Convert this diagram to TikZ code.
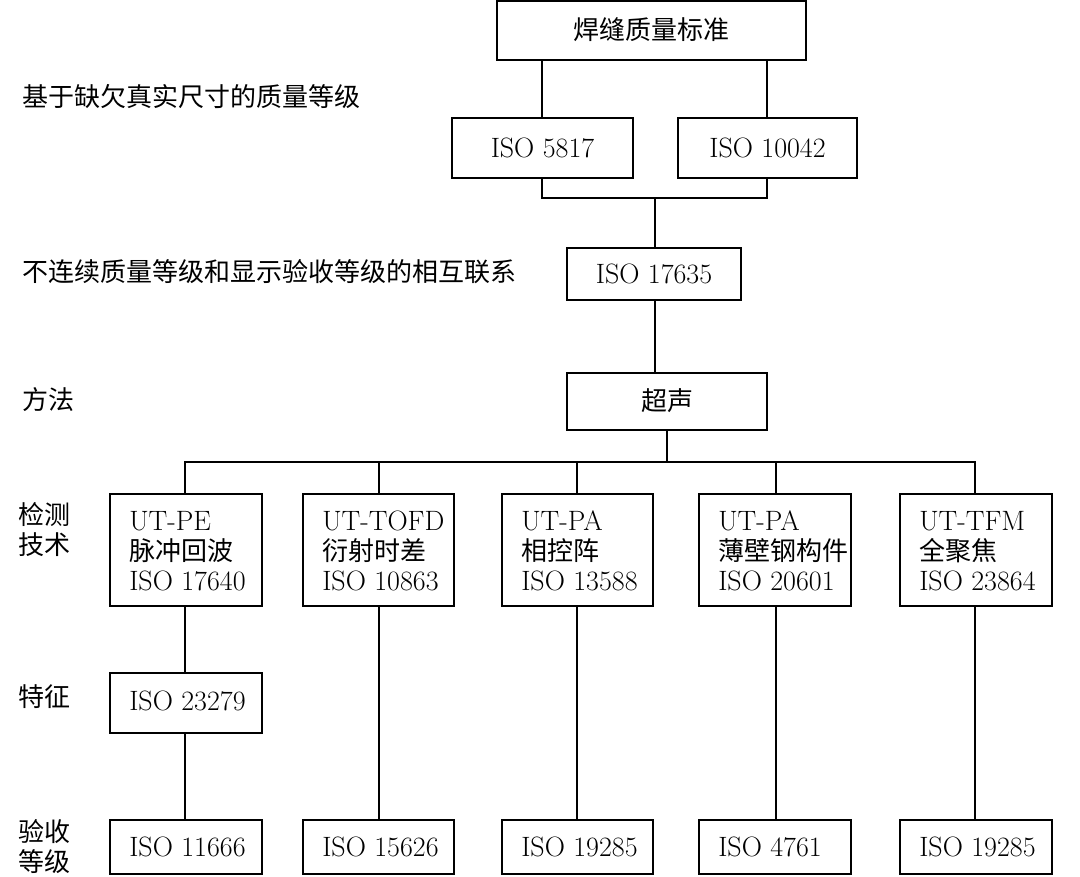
\documentclass[tikz,border=0pt]{standalone}
\usepackage{fontspec}
\newfontfamily\cjkf{Noto Sans CJK SC}
\newcommand\cjk{\cjkf\fontsize{19.5}{22.5}\selectfont}
\begin{document}
\begin{tikzpicture}[x=0.75pt,y=-0.75pt,
  bx/.style={draw,line width=0.9pt},
  ln/.style={line width=0.9pt},
  t/.style={font=\fontsize{21}{22.5}\selectfont},
  lab/.style={t,anchor=west,align=left,inner sep=0pt}]
\useasboundingbox (0,0) rectangle (1080,876);
\draw[bx] (497,1) rectangle (806,60); \node[t] (top) at (651.5,30) {\cjk 焊缝质量标准};
\draw[bx] (452,118) rectangle (633,178); \node[t] (a) at (542.5,148) {ISO 5817};
\draw[bx] (678,118) rectangle (857,178); \node[t] (b) at (767.5,148) {ISO 10042};
\draw[bx] (567,248) rectangle (741,300); \node[t] (c) at (654,274) {ISO 17635};
\draw[bx] (567,373) rectangle (767,430); \node[t] (d) at (667,401) {\cjk 超声};
\draw[ln] (542,60)--(542,118) (767,60)--(767,118);
\draw[ln] (542,178)--(542,198)--(767,198)--(767,178) (655,198)--(655,248);
\draw[ln] (655,300)--(655,373);
\draw[ln] (667,430)--(667,462) (185,494)--(185,462)--(975,462)--(975,494);
\foreach \x/\l/\r/\n/\m/\s/\f in {185/110/262/UT-PE/脉冲回波/17640/11666,379/303/454/UT-TOFD/衍射时差/10863/15626,577/502/653/UT-PA/相控阵/13588/19285,776/699/851/UT-PA/薄壁钢构件/20601/4761,975/900/1052/UT-TFM/全聚焦/23864/19285}{
  \draw[bx] (\l,494) rectangle (\r,606);
  \node[lab] (m\x) at (\l+19,551) {\n\\{\cjk \m}\\ISO \s};
  \draw[bx] (\l,820) rectangle (\r,874);
  \node[lab] (e\x) at (\l+19,847) {ISO \f};
  \draw[ln] (\x,462)--(\x,494);
}
\foreach \x in {379,577,776,975}{\draw[ln] (\x,606)--(\x,820);}
\draw[bx] (110,673) rectangle (262,733); \node[lab] (f) at (129,701) {ISO 23279};
\draw[ln] (185,606)--(185,673) (185,733)--(185,820);
\node[lab] at (22,97) {\cjk 基于缺欠真实尺寸的质量等级};
\node[lab] at (22,272) {\cjk 不连续质量等级和显示验收等级的相互联系};
\node[lab] at (22,400) {\cjk 方法};
\node[lab] at (18,530) {\cjk 检测\\\cjk 技术};
\node[lab] at (18,697) {\cjk 特征};
\node[lab] at (18,847) {\cjk 验收\\\cjk 等级};
\end{tikzpicture}
\end{document}
